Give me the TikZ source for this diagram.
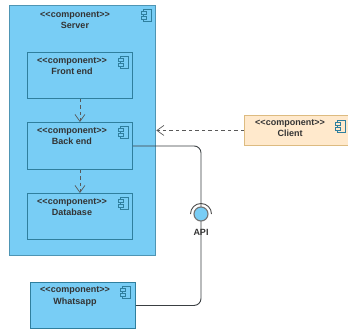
\documentclass[tikz,border=0pt]{standalone}
\usepackage{fontspec}
\setmainfont{Liberation Sans}
\usetikzlibrary{arrows.meta}
\definecolor{compblue}{HTML}{78CDF5}
\definecolor{outerline}{HTML}{4E95B4}
\definecolor{innerline}{HTML}{2F7F9E}
\definecolor{clientfill}{HTML}{FFE9CC}
\definecolor{clientline}{HTML}{DDBB80}
\definecolor{wire}{HTML}{3A3F42}
\tikzset{
  x=1pt,y=-1pt,
  compbox/.style={draw=innerline,fill=compblue,line width=0.9pt,minimum width=105pt,anchor=north west,inner sep=0pt},
  outerbox/.style={compbox,draw=outerline,line width=1.3pt,minimum width=146pt,minimum height=250pt},
  clientbox/.style={compbox,draw=clientline,fill=clientfill,minimum width=104pt,minimum height=30pt},
  complabel/.style={font=\bfseries\fontsize{9}{11.2}\selectfont,text=black!80,align=center,inner sep=0pt,anchor=center},
  dep/.style={draw=black!65,line width=0.7pt,dash pattern=on 3.5pt off 3pt,-{Straight Barb[length=7pt,width=10pt,line width=0.7pt]}},
  wireline/.style={draw=wire,line width=0.9pt,rounded corners=7pt},
  iconline/.style={draw=innerline,line width=0.8pt}
}
\newcommand{\compicon}[2]{%
  \draw[iconline] (#1+2.5,#2) rectangle (#1+10.5,#2+12.5);
  \draw[iconline,fill=compblue] (#1,#2+2.5) rectangle (#1+5,#2+5.5);
  \draw[iconline,fill=compblue] (#1,#2+7) rectangle (#1+5,#2+10);
}
\newcommand{\stereo}{<{}<component>{}>}
\begin{document}
\begin{tikzpicture}
\useasboundingbox (0,0) rectangle (348,329);
\node[outerbox] (server) at (9,5) {};
\node[compbox,minimum height=46pt] (front) at (27,52) {};
\node[compbox,minimum height=47pt] (back) at (27,122) {};
\node[compbox,minimum height=46pt] (db) at (27,193) {};
\node[compbox,minimum height=46pt] (whatsapp) at (30,282) {};
\node[clientbox] (client) at (244,115) {};
\node[complabel] (serverlabel) at (75,20) {\stereo\\Server};
\node[complabel] (frontlabel) at (72,66) {\stereo\\Front end};
\node[complabel] (backlabel) at (72,136.5) {\stereo\\Back end};
\node[complabel] (dblabel) at (72,207.5) {\stereo\\Database};
\node[complabel] (whatsapplabel) at (75,296.5) {\stereo\\Whatsapp};
\node[complabel] (clientlabel) at (290,128.5) {\stereo\\Client};
\compicon{141}{9}
\compicon{118}{56}
\compicon{118}{126}
\compicon{118}{197}
\compicon{120}{286}
\definecolor{compblue}{HTML}{FFE9CC}
\compicon{335}{120}
\definecolor{compblue}{HTML}{78CDF5}
\draw[wireline] (back.east) -| (201,207);
\draw[wireline] (whatsapp.east) -| (201,221);
\node[draw=black!55,fill=compblue,line width=1.1pt,circle,minimum size=14pt,inner sep=0pt] (api) at (201,214) {};
\node[complabel] (apilabel) at (201,232) {API};
\draw[draw=black!70,line width=0.9pt] (190.5,214) arc[start angle=180,end angle=360,radius=10.5];
\draw[dep] (front.south) -- (back.north);
\draw[dep] (back.south) -- (db.north);
\draw[dep] (client.west) -- (server.east |- client.west);
\end{tikzpicture}
\end{document}
